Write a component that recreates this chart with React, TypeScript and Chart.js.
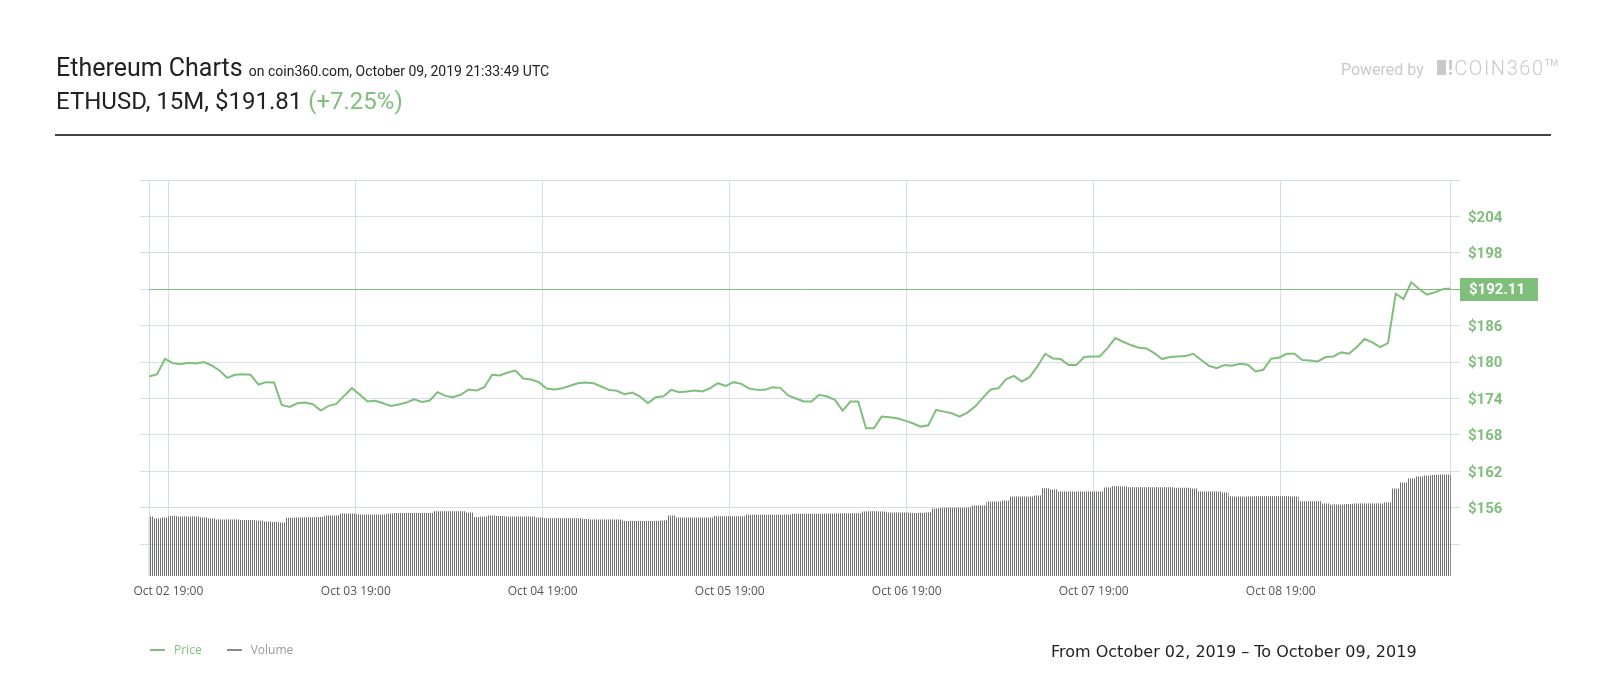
import React, { useEffect, useRef } from "react";
import { Chart, registerables } from "chart.js";

Chart.register(...registerables);

// ---- data ----
const PRICE: number[] = [
  177.63, 178.0, 180.55, 179.83, 179.67, 179.89, 179.78, 180.0, 179.45, 178.62,
  177.41, 177.91, 178.02, 177.91, 176.31, 176.7, 176.64, 172.96, 172.63, 173.23,
  173.34, 173.07, 172.02, 172.79, 173.12, 174.44, 175.71, 174.66, 173.51, 173.62,
  173.23, 172.79, 173.01, 173.34, 173.89, 173.45, 173.67, 175.05, 174.44, 174.22,
  174.66, 175.49, 175.32, 175.87, 177.91, 177.8, 178.29, 178.62, 177.3, 177.14,
  176.7, 175.65, 175.49, 175.71, 176.1, 176.53, 176.64, 176.53, 175.98, 175.43,
  175.27, 174.72, 174.99, 174.33, 173.23, 174.22, 174.39, 175.43, 175.05, 175.16,
  175.32, 175.16, 175.71, 176.53, 176.09, 176.7, 176.42, 175.65, 175.43, 175.43,
  175.87, 175.76, 174.5, 174.0, 173.51, 173.51, 174.61, 174.33, 173.78, 172.02,
  173.51, 173.51, 169.1, 169.1, 171.03, 170.92, 170.75, 170.37, 169.93, 169.38,
  169.6, 172.13, 171.85, 171.58, 171.03, 171.69, 172.68, 174.1, 175.5, 175.71,
  177.19, 177.74, 176.81, 177.52, 179.29, 181.38, 180.61, 180.5, 179.51, 179.51,
  180.83, 180.94, 180.94, 182.31, 183.96, 183.36, 182.81, 182.37, 182.26, 181.49,
  180.5, 180.83, 180.94, 180.99, 181.38, 180.39, 179.4, 179.01, 179.51, 179.4,
  179.73, 179.56, 178.46, 178.74, 180.55, 180.72, 181.38, 181.38, 180.33, 180.28,
  180.11, 180.83, 180.94, 181.6, 181.38, 182.48, 183.8, 183.25, 182.48, 183.14,
  191.28, 190.4, 193.15, 192.05, 191.12, 191.5, 192.0, 192.11,
];

const VOLUME: number[] = [
  59, 57, 58, 59.5, 59, 59, 59, 58, 57, 56,
  56, 56, 55.5, 55.5, 55, 54, 53.5, 53, 57.7, 58,
  58.3, 58.3, 58.5, 60, 60, 62, 62, 61, 61, 61,
  61, 62, 62.5, 62.5, 62.5, 62.5, 62.5, 64.3, 64.3, 64.3,
  64.3, 63, 58.5, 59, 60, 59.5, 59, 59, 59, 59,
  58, 57.3, 57.3, 57.3, 57.3, 57.3, 56.5, 56, 56, 56,
  56, 54.5, 54.5, 54.5, 54.5, 54.5, 55, 60, 58, 58,
  58, 58, 58, 59.3, 59.3, 59.3, 59.3, 60.7, 60.7, 60.7,
  60.7, 60.7, 61, 61.7, 61.7, 61.7, 61.7, 62, 62, 62.3,
  62.3, 62.3, 64, 64.3, 64, 63, 63, 63, 62.5, 62.5,
  63, 67, 67.7, 67.7, 67.7, 68, 70, 70, 74, 74,
  75, 79, 79, 79, 80, 87.3, 86, 84, 84, 84,
  84, 84, 84, 88, 89.3, 89, 88.3, 88.3, 88.3, 88.3,
  88.3, 88.3, 87.7, 87.7, 87, 84, 84, 84, 83, 79,
  79, 79, 79.3, 79.3, 79.3, 79.3, 79.3, 79, 74.3, 74.3,
  74.3, 72, 71, 71, 71.5, 72, 72, 72, 72, 73,
  87, 93, 97, 99, 100, 100.5, 101, 101,
];
const VOLUME_AXIS_MAX = 395;

// x tick positions (in data-point index units) and their labels
const X_TICK_POS: number[] = [2.44, 26.5, 50.5, 74.51, 97.23, 121.23, 145.24];
const X_TICK_LABELS: string[] = [
  "Oct 02 19:00",
  "Oct 03 19:00",
  "Oct 04 19:00",
  "Oct 05 19:00",
  "Oct 06 19:00",
  "Oct 07 19:00",
  "Oct 08 19:00",
];
const Y_TICKS: number[] = [150, 156, 162, 168, 174, 180, 186, 192, 198, 204, 210];
const Y_MIN = 144.77;
const Y_MAX = 210;
const LAST_PRICE = 192.11;

const GREEN = "#7fbf7b";
const GRID = "#d6dee6";

export default function App() {
  const ref = useRef<HTMLCanvasElement | null>(null);

  useEffect(() => {
    const canvas = ref.current!;
    const ctx = canvas.getContext("2d")!;
    const pc = document.createElement("canvas");
    pc.width = 2;
    pc.height = 4;
    const pctx = pc.getContext("2d")!;
    pctx.fillStyle = "#6f6f6f";
    pctx.fillRect(0, 0, 1, 4);
    const pattern = ctx.createPattern(pc, "repeat")!;

    const lastPricePlugin = {
      id: "lastPrice",
      beforeDatasetsDraw(chart: any) {
        const { ctx, chartArea, scales } = chart;
        const y = Math.round(scales.y.getPixelForValue(LAST_PRICE)) + 0.5;
        const x0 = scales.x.getPixelForValue(0);
        ctx.save();
        ctx.strokeStyle = GREEN;
        ctx.lineWidth = 1;
        ctx.beginPath();
        ctx.moveTo(x0, y);
        ctx.lineTo(chartArea.right, y);
        ctx.stroke();
        ctx.restore();
      },
      beforeDatasetDraw(chart: any, args: any) {
        if (args.index !== 1) return;
        const { ctx, chartArea, scales } = chart;
        const x0 = scales.x.getPixelForValue(0) - 0.5;
        const x1 = scales.x.getPixelForValue(VOLUME.length - 1) + 0.5;
        ctx.save();
        ctx.beginPath();
        ctx.rect(x0, chartArea.top, x1 - x0, chartArea.bottom - chartArea.top);
        ctx.clip();
      },
      afterDatasetDraw(chart: any, args: any) {
        if (args.index !== 1) return;
        chart.ctx.restore();
      },
      afterDraw(chart: any) {
        const { ctx, chartArea, scales } = chart;
        const y = Math.round(scales.y.getPixelForValue(LAST_PRICE));
        ctx.save();
        ctx.fillStyle = GREEN;
        ctx.fillRect(chartArea.right, y - 11, 78, 23);
        ctx.fillStyle = "#ffffff";
        ctx.font = "bold 15px Roboto";
        ctx.textBaseline = "middle";
        ctx.textAlign = "left";
        ctx.fillText("$" + LAST_PRICE.toFixed(2), chartArea.right + 9, y + 1);
        ctx.restore();
      },
    };

    const chart = new Chart(canvas, {
      data: {
        datasets: [
          {
            type: "line",
            label: "Price",
            data: PRICE.map((v, i) => ({ x: i, y: v })),
            borderColor: GREEN,
            borderWidth: 2,
            pointRadius: 0,
            tension: 0,
            yAxisID: "y",
            order: 1,
          },
          {
            type: "bar",
            label: "Volume",
            data: VOLUME.map((v, i) => ({ x: i, y: v })),
            backgroundColor: pattern as any,
            borderWidth: 0,
            barPercentage: 1,
            categoryPercentage: 1,
            yAxisID: "yVol",
            order: 2,
          },
        ],
      } as any,
      options: {
        responsive: false,
        animation: false,
        layout: { padding: { left: 140, top: 180, right: 0, bottom: 0 } },
        plugins: {
          legend: { display: false },
          tooltip: { enabled: false },
        },
        scales: {
          x: {
            type: "linear",
            offset: false,
            min: -1.2,
            max: 168.25,
            grid: { color: GRID, drawTicks: false, offset: false },
            border: { display: false },
            afterBuildTicks: (s: any) => {
              s.ticks = [0, ...X_TICK_POS, PRICE.length - 1].map((v) => ({ value: v }));
            },
            afterFit: (s: any) => {
              s.height = 124;
            },
            ticks: {
              autoSkip: false,
              maxRotation: 0,
              padding: 8,
              color: "#555",
              font: { family: "'Open Sans'", size: 12 },
              callback: (v: any) => {
                const k = X_TICK_POS.indexOf(v);
                return k >= 0 ? X_TICK_LABELS[k] : "";
              },
            },
          },
          y: {
            type: "linear",
            position: "right",
            min: Y_MIN,
            max: Y_MAX,
            grid: { color: GRID, drawTicks: false },
            border: { display: false },
            afterBuildTicks: (s: any) => {
              s.ticks = Y_TICKS.map((v) => ({ value: v }));
            },
            afterFit: (s: any) => {
              s.width = 140;
            },
            ticks: {
              padding: 8,
              labelOffset: 1.5,
              color: GREEN,
              font: { family: "Roboto", size: 15, weight: "bold" },
              callback: (v: any) => (v === Y_TICKS[0] || v === Y_TICKS[Y_TICKS.length - 1] ? "" : "$" + v),
            },
          },
          yVol: {
            type: "linear",
            display: false,
            min: 0,
            max: VOLUME_AXIS_MAX,
          },
        },
      } as any,
      plugins: [lastPricePlugin],
    });

    return () => chart.destroy();
  }, []);

  return (
    <div
      style={{
        position: "absolute",
        left: 0,
        top: 0,
        width: 1600,
        height: 700,
        background: "#fff",
        fontFamily: "Roboto, sans-serif",
        overflow: "hidden",
      }}
    >
      <canvas
        ref={ref}
        width={1600}
        height={700}
        style={{ position: "absolute", left: 0, top: 0, width: 1600, height: 700 }}
      />
      <div
        style={{
          position: "absolute",
          left: 56,
          top: 53,
          fontSize: 25,
          lineHeight: "30px",
          color: "#222",
          whiteSpace: "nowrap",
        }}
      >
        Ethereum Charts <span style={{ fontSize: 14 }}>on coin360.com, October 09, 2019 21:33:49 UTC</span>
      </div>
      <div
        style={{
          position: "absolute",
          left: 56,
          top: 86,
          fontSize: 24,
          lineHeight: "30px",
          color: "#222",
          whiteSpace: "nowrap",
        }}
      >
        ETHUSD, 15M, $191.81 <span style={{ color: GREEN }}>(+7.25%)</span>
      </div>
      <div
        style={{
          position: "absolute",
          right: 42,
          top: 56,
          display: "flex",
          alignItems: "baseline",
          color: "#c9c9c9",
          whiteSpace: "nowrap",
        }}
      >
        <span style={{ fontSize: 16, marginRight: 13 }}>Powered by</span>
        <span
          style={{
            display: "inline-block",
            width: 9,
            height: 15,
            background: "#c9c9c9",
            marginRight: 2,
          }}
        />
        <span style={{ fontSize: 20, fontWeight: "bold", marginRight: 1 }}>!</span>
        <span style={{ fontSize: 20, fontWeight: 300, letterSpacing: 1.6 }}>COIN360</span>
        <span style={{ fontSize: 9, alignSelf: "flex-start", marginTop: 2 }}>TM</span>
      </div>
      <div
        style={{
          position: "absolute",
          left: 55,
          top: 134,
          width: 1496,
          height: 2,
          background: "#444",
        }}
      />
      <div
        style={{
          position: "absolute",
          left: 150,
          top: 641,
          display: "flex",
          alignItems: "center",
          fontFamily: "'Open Sans', sans-serif",
          fontSize: 12,
          lineHeight: "18px",
          whiteSpace: "nowrap",
        }}
      >
        <span style={{ display: "inline-block", width: 15, height: 2, background: GREEN, marginRight: 9 }} />
        <span style={{ color: GREEN, marginRight: 25 }}>Price</span>
        <span style={{ display: "inline-block", width: 15, height: 2, background: "#8a8a8a", marginRight: 9 }} />
        <span style={{ color: "#999" }}>Volume</span>
      </div>
      <div
        style={{
          position: "absolute",
          left: 1051,
          top: 641,
          fontFamily: "'DejaVu Sans', sans-serif",
          fontSize: 16,
          lineHeight: "22px",
          color: "#222",
          whiteSpace: "nowrap",
        }}
      >
        From October 02, 2019 – To October 09, 2019
      </div>
    </div>
  );
}
